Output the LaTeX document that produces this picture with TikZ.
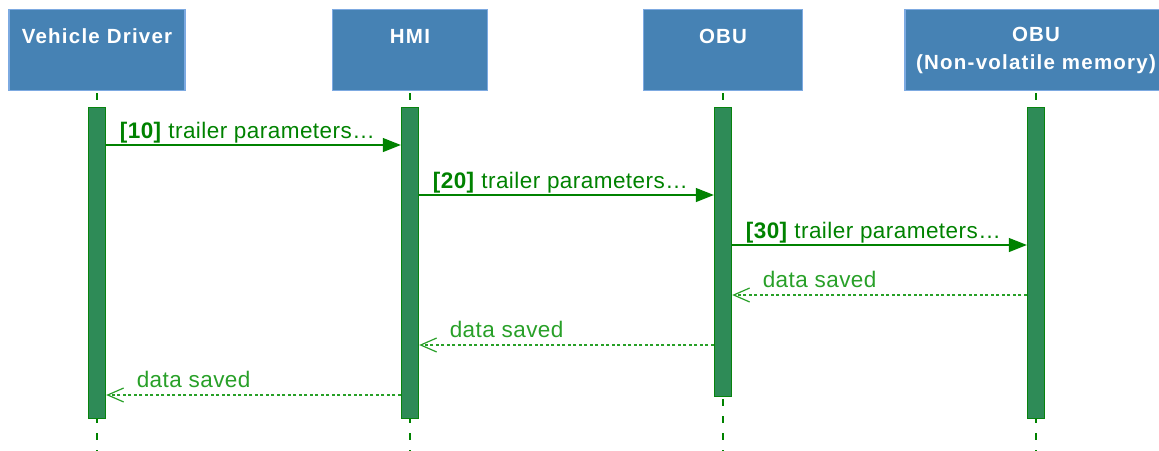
\documentclass[tikz,border=0pt]{standalone}
\usepackage{fontspec}
\setmainfont{Liberation Sans}
\usetikzlibrary{arrows.meta}
\definecolor{boxblue}{RGB}{70,130,180}
\definecolor{boxedge}{RGB}{125,170,225}
\definecolor{barfill}{RGB}{46,139,87}
\definecolor{callgreen}{RGB}{0,130,0}
\definecolor{backgreen}{RGB}{40,160,40}
\begin{document}
\begin{tikzpicture}[x=1pt,y=-1pt,
        actor/.style={draw=boxedge,line width=1.2pt,fill=boxblue,text=white,
            font=\bfseries\fontsize{20.5}{28}\selectfont\addfontfeature{LetterSpace=6},
            align=center,minimum height=81pt,inner sep=0pt,anchor=north},
        life/.style={draw=callgreen,line width=1.4pt,dash pattern=on 7pt off 10pt},
        actbar/.style={draw=callgreen!85!barfill,line width=1.4pt,fill=barfill,
            minimum width=17pt,inner sep=0pt,anchor=north},
        call/.style={callgreen,line width=1.3pt,-{Triangle[length=18pt,width=14pt]}},
        back/.style={backgreen,line width=1.2pt,dash pattern=on 3pt off 2.5pt,
            -{Straight Barb[length=16pt,width=14pt]}},
        lc/.style={font=\fontsize{22.5}{26}\selectfont\addfontfeature{LetterSpace=2},
            inner sep=0pt,anchor=base west}]
    \clip (0,0) rectangle (1159,450);
    % participants, their lifelines and activation bars
    \foreach \n/\x/\w/\h/\t/\u in {drv/97/176/311/Vehicle Driver/~,hmi/410/155/311/HMI/~,
            obu/723/159/289/OBU/~,nvm/1036/262/311/OBU/(Non-volatile memory)} {
        \node[actor,minimum width=\w pt] (\n) at (\x,9) {\t\\\u};
        \draw[life] (\n.south) ++(0,2) -- ++(0,360);
        \node[actbar,minimum height=\h pt] (\n bar) at (\x,107) {};
    }
    % requests
    \foreach \a/\b/\y/\k in {drv/hmi/145/10,hmi/obu/195/20,obu/nvm/245/30} {
        \draw[call] (\a bar.east |- 0,\y) -- (\b bar.west |- 0,\y)
            node[lc,text=callgreen,pos=0,xshift=13pt,yshift=7pt]
            {\textbf{[\k]} trailer parameters…};
    }
    % replies
    \foreach \a/\b/\y in {obu/nvm/295,hmi/obu/345,drv/hmi/395} {
        \draw[back] (\b bar.west |- 0,\y) -- (\a bar.east |- 0,\y)
            node[lc,text=backgreen,pos=1,xshift=30pt,yshift=8pt] {data saved};
    }
\end{tikzpicture}
\end{document}
